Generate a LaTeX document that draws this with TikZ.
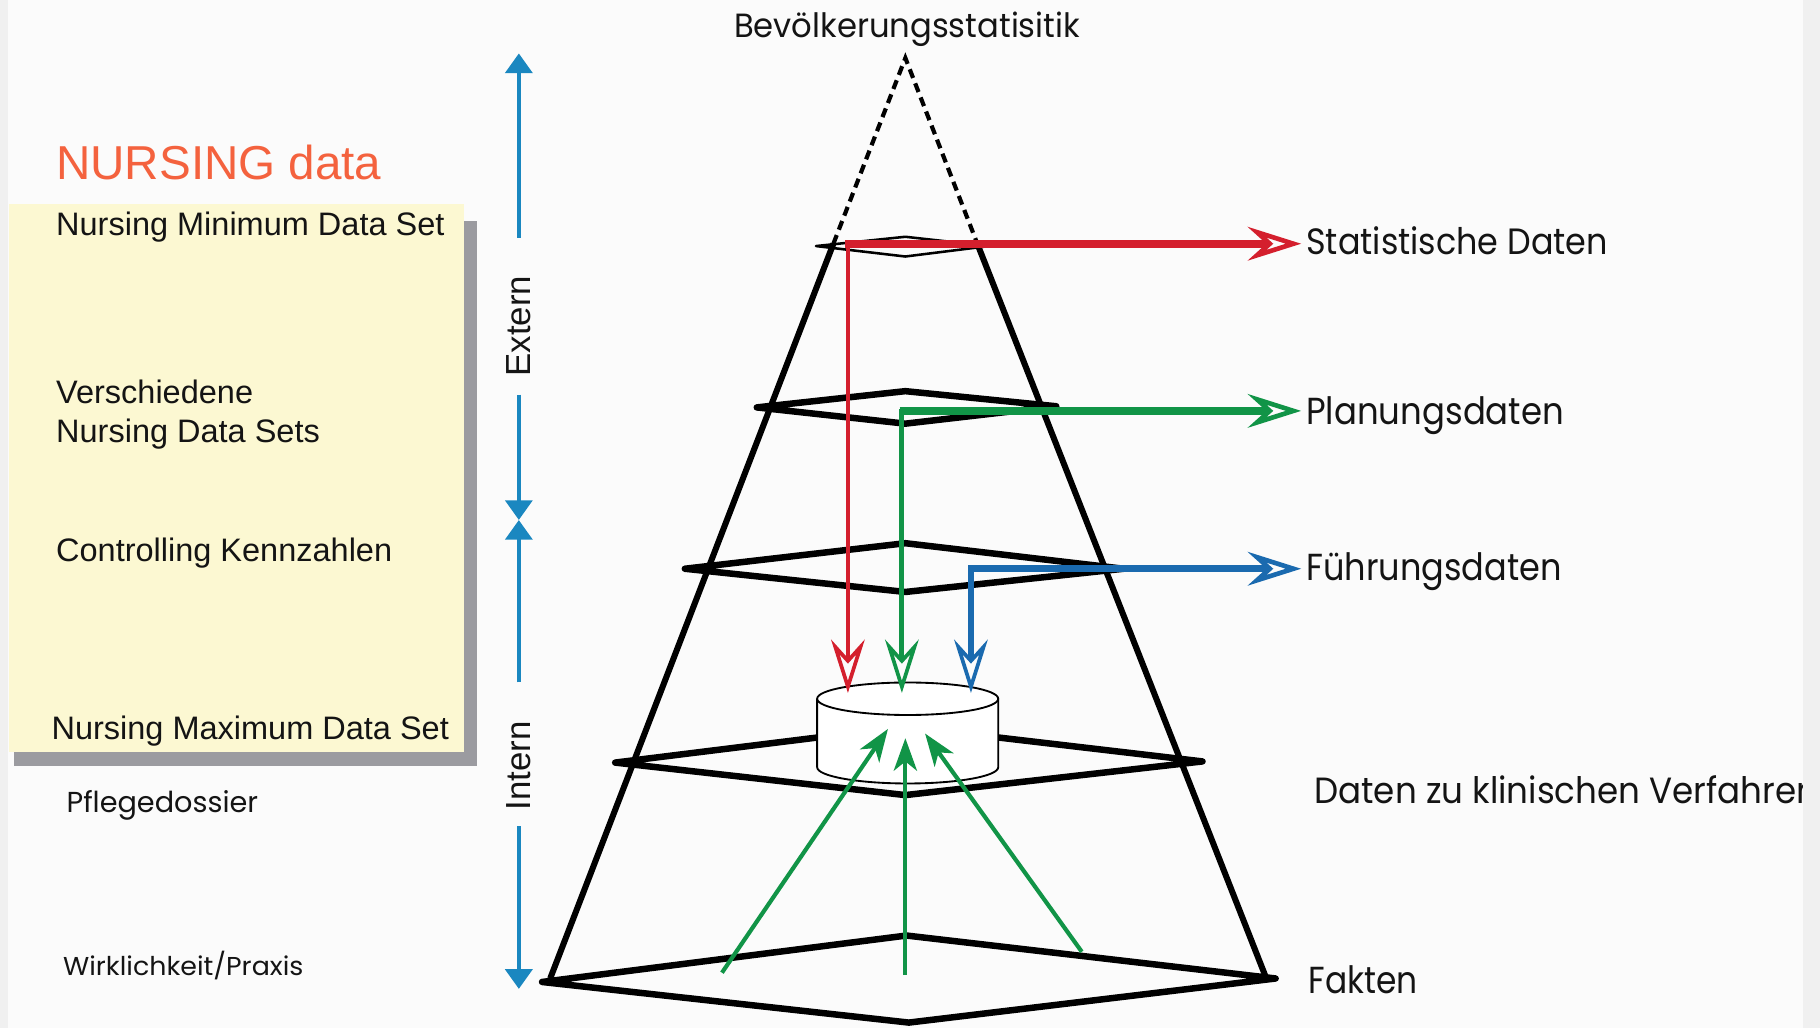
\documentclass[tikz,border=0pt]{standalone}
\usepackage{fontspec}
\setmainfont{Liberation Sans}
\newfontfamily\gothic{Poppins}
\usetikzlibrary{arrows.meta}
\definecolor{bgc}{HTML}{FBFBFB}
\definecolor{marg}{HTML}{F0F0F0}
\definecolor{cream}{HTML}{FCF8D2}
\definecolor{shadowc}{HTML}{9B9BA0}
\definecolor{nurs}{HTML}{F4623E}
\definecolor{axblue}{HTML}{1A87C0}
\definecolor{dred}{HTML}{D41F2D}
\definecolor{dgreen}{HTML}{119447}
\definecolor{dblue}{HTML}{1A6AAF}
\newcommand{\gtxt}[3]{\resizebox{#1}{#2}{\gothic #3}}
\tikzset{
  lt/.style={anchor=base west, inner sep=0pt, text=black!92},
  bfont/.style={font=\fontsize{14}{17}\selectfont},
  axfont/.style={font=\fontsize{15}{18}\selectfont, inner sep=0pt, text=black!92},
  pyr/.style={line width=2.6pt, black, line join=round},
  lvl/.style={line width=2.8pt, black, line join=round},
  lvlthin/.style={line width=1.1pt, black, line join=round},
  apexdash/.style={line width=1.8pt, black, dash pattern=on 4pt off 2.5pt},
  axis/.style={axblue, line width=2pt, -{Triangle[length=8.5pt, width=11.5pt]}},
  openh/.style={-{Stealth[fill=bgc, length=23pt, width=14.5pt, inset=8pt, line width=2pt]}},
  openv/.style={-{Stealth[fill=bgc, length=23pt, width=14.5pt, inset=8pt, line width=1.6pt]}},
  uparrow/.style={dgreen, line width=1.8pt, -{Stealth[length=14pt, width=10pt, inset=4pt]}},
  cyl/.style={line width=0.8pt, black, fill=white}
}
\begin{document}
\begin{tikzpicture}[x=0.5pt, y=-0.5pt]
\useasboundingbox (0,0) rectangle (1568,886);
\fill[marg] (0,0) rectangle (1568,886);
\fill[bgc] (7,0) rectangle (1553,886);

% yellow box with shadow
\fill[shadowc] (12,190) rectangle (411,660);
\fill[cream] (8,176) rectangle (400,648);

% left texts
\node[lt, text=nurs, font=\fontsize{20.5}{24}\selectfont] (title) at (48,155) {NURSING data};
\node[lt, bfont] (nmin) at (48,203) {Nursing Minimum Data Set};
\node[lt, bfont] (vers) at (48,348) {Verschiedene};
\node[lt, bfont] (nds) at (48,381) {Nursing Data Sets};
\node[lt, bfont] (ctrl) at (48,484) {Controlling Kennzahlen};
\node[lt, bfont] (nmax) at (44,637) {Nursing Maximum Data Set};
\node[lt] (pfl) at (57,700) {\gtxt{82.5pt}{9.5pt}{Pflegedossier}};
\node[lt] (wirk) at (54,840) {\gtxt{103.5pt}{10.5pt}{Wirklichkeit/Praxis}};

% blue axis
\coordinate (axtop) at (447,46);
\coordinate (ax1) at (447,205);
\node[axfont, rotate=90] (ext) at (447,281) {Extern};
\coordinate (ax2) at (447,340);
\coordinate (axmid) at (447,448);
\coordinate (ax3) at (447,588);
\node[axfont, rotate=90] (int) at (447,660) {Intern};
\coordinate (ax4) at (447,712);
\coordinate (axbot) at (447,852);
\draw[axis] (ax1) -- (axtop);
\draw[axis] (ax2) -- (axmid);
\draw[axis] (ax3) -- (axmid);
\draw[axis] (ax4) -- (axbot);

% pyramid
\coordinate (apex) at (780,50);
\coordinate (dl) at (718,210);
\coordinate (dr) at (842,210);
\coordinate (bl) at (474,843);
\coordinate (br) at (1091,843);
\draw[apexdash] (dl) -- (apex) -- (dr);
\draw[pyr] (dl) -- (bl);
\draw[pyr] (dr) -- (br);

% levels
\draw[lvlthin] (703,212) -- (780,204) -- (852,212) -- (780,221) -- cycle;
\draw[lvl] (652,351) -- (780,337) -- (910,350) -- (780,365) -- cycle;
\draw[lvl] (590,490) -- (780,468) -- (968,490) -- (780,510) -- cycle;
\draw[lvl] (530,657) -- (780,626) -- (1036,656) -- (780,685) -- cycle;
\draw[lvl] (467,846) -- (781,806) -- (1099,843) -- (783,881) -- cycle;

% cylinder (database)
\coordinate (db) at (782,632);
\draw[cyl] (704,602) -- (704,661) arc[start angle=180, end angle=0, x radius=78, y radius=14] -- (860,602);
\draw[cyl] (782,602) ellipse [x radius=78, y radius=14];

% coloured data flows
\coordinate (rs) at (728,210);
\coordinate (rc) at (730.5,208);
\coordinate (re) at (1121,210);
\coordinate (rt) at (730.5,597);
\draw[dred, line width=3.6pt, openh] (rs) -- (re);
\draw[dred, line width=1.4pt, openv] (rc) -- (rt);

\coordinate (gs) at (775,354);
\coordinate (gc) at (777,352);
\coordinate (ge) at (1121,354);
\coordinate (gt) at (777,597);
\draw[dgreen, line width=3.4pt, openh] (gs) -- (ge);
\draw[dgreen, line width=2.1pt, openv] (gc) -- (gt);

\coordinate (bs) at (834,490);
\coordinate (bc) at (836.5,488);
\coordinate (be) at (1121,490);
\coordinate (bt) at (836.5,597);
\draw[dblue, line width=3.2pt, openh] (bs) -- (be);
\draw[dblue, line width=2.6pt, openv] (bc) -- (bt);

% green arrows from the base into the database
\coordinate (u1s) at (622,838);
\coordinate (u1e) at (765,628);
\coordinate (u2s) at (780,840);
\coordinate (u2e) at (780,636);
\coordinate (u3s) at (932,820);
\coordinate (u3e) at (797,632);
\draw[uparrow] (u1s) -- (u1e);
\draw[uparrow] (u2s) -- (u2e);
\draw[uparrow] (u3s) -- (u3e);

% right-hand labels
\node[lt] (bev) at (632,32) {\gtxt{149pt}{11pt}{Bevölkerungsstatisitik}};
\node[lt] (stat) at (1125,219) {\gtxt{130pt}{12pt}{Statistische Daten}};
\node[lt] (plan) at (1125,366) {\gtxt{111pt}{12pt}{Planungsdaten}};
\node[lt] (fuehr) at (1125,500) {\gtxt{110pt}{12pt}{Führungsdaten}};
\node[lt] (klin) at (1132,692) {\gtxt{217pt}{12pt}{Daten zu klinischen Verfahren}};
\node[lt] (fakt) at (1127,856) {\gtxt{47pt}{12pt}{Fakten}};

% right margin strip (cuts the last letter)
\fill[marg] (1553,0) rectangle (1568,886);
\end{tikzpicture}
\end{document}
